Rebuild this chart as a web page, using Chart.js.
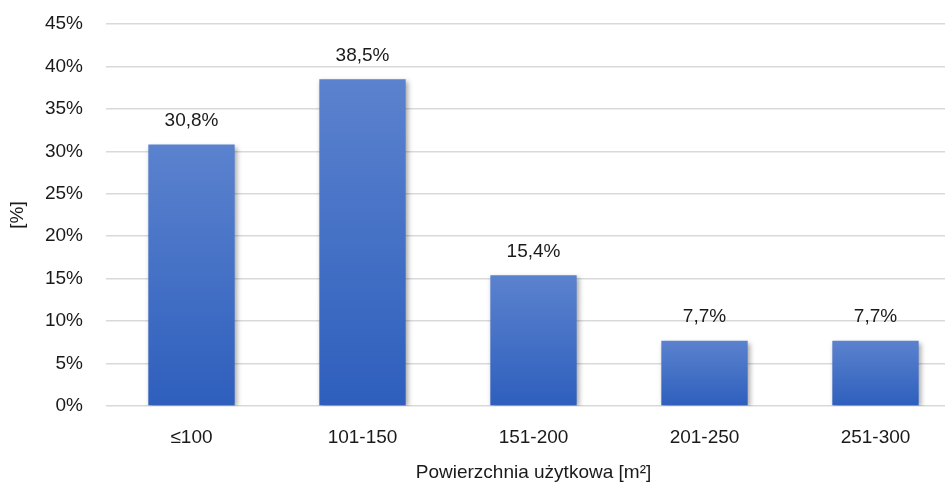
<!DOCTYPE html>
<html>
<head>
<meta charset="utf-8">
<script src="https://cdn.jsdelivr.net/npm/chart.js@4/dist/chart.umd.min.js"></script>
<style>
  html, body { margin: 0; padding: 0; background: #fff; }
  #wrap { width: 949px; height: 486px; overflow: hidden; }
</style>
</head>
<body>
<div id="wrap"><canvas id="wykres" width="961" height="486"></canvas></div>
<script>
var kategorie = ['\u2264100', '101-150', '151-200', '201-250', '251-300'];
var udzialy = [30.8, 38.5, 15.4, 7.7, 7.7];
var yMin = 0, yMax = 45, yKrok = 5;

var FONT = 'Liberation Sans';

function gradientSlupka(context) {
    var chart = context.chart;
    if (!chart.chartArea || context.parsed == null) return '#4472c4';
    var y = chart.scales.y;
    var gora = y.getPixelForValue(context.parsed.y);
    var dol = y.getPixelForValue(0);
    var g = chart.ctx.createLinearGradient(0, gora, 0, dol);
    g.addColorStop(0, '#5b82ce');
    g.addColorStop(1, '#2e5fbd');
    return g;
}

// cien pod slupkami, jak w Excelu
var cienPlugin = {
    id: 'cien',
    beforeDatasetDraw: function(chart) {
        var ctx = chart.ctx;
        ctx.save();
        ctx.shadowColor = 'rgba(0,0,0,0.35)';
        ctx.shadowBlur = 5;
        ctx.shadowOffsetX = 2;
        ctx.shadowOffsetY = 2;
    },
    afterDatasetDraw: function(chart) {
        chart.ctx.restore();
    }
};

// obcinamy siatke na 945 px, jak na obrazku
var siatkaPlugin = {
    id: 'siatka',
    beforeDraw: function(chart) {
        chart.ctx.save();
        chart.ctx.beginPath();
        chart.ctx.rect(0, 0, 945, chart.height);
        chart.ctx.clip();
    },
    afterDraw: function(chart) {
        chart.ctx.restore();
    }
};

// etykiety wartosci nad slupkami
var etykietyPlugin = {
    id: 'etykiety',
    afterDatasetsDraw: function(chart) {
        var ctx = chart.ctx;
        var meta = chart.getDatasetMeta(0);
        ctx.save();
        ctx.font = '19px "' + FONT + '"';
        ctx.fillStyle = '#1a1a1a';
        ctx.textAlign = 'center';
        ctx.textBaseline = 'bottom';
        meta.data.forEach(function(bar, i) {
            var txt = udzialy[i].toFixed(1).replace('.', ',') + '%';
            ctx.fillText(txt, bar.x, bar.y - 14);
        });
        ctx.restore();
    }
};

var config = {
    type: 'bar',
    data: {
        labels: kategorie,
        datasets: [{
            data: udzialy,
            backgroundColor: gradientSlupka,
            borderWidth: 0,
            barPercentage: 0.505,
            categoryPercentage: 1.0
        }]
    },
    options: {
        responsive: false,
        animation: false,
        layout: {
            padding: { left: 0, right: 0, top: 24, bottom: 0 }
        },
        plugins: {
            legend: { display: false },
            tooltip: { enabled: false }
        },
        scales: {
            x: {
                grid: { display: false },
                border: { display: false },
                ticks: {
                    color: '#1a1a1a',
                    font: { family: FONT, size: 19 },
                    padding: 12,
                    maxRotation: 0
                },
                title: {
                    display: true,
                    text: 'Powierzchnia u\u017cytkowa [m\u00b2]',
                    color: '#1a1a1a',
                    font: { family: FONT, size: 19 },
                    padding: { top: 4, bottom: 2 }
                },
                afterFit: function(axis) { axis.height = 80; }
            },
            y: {
                min: yMin,
                max: yMax,
                grid: {
                    color: '#d9d9d9',
                    lineWidth: 1.5,
                    drawTicks: true,
                    tickLength: 23,
                    tickColor: 'rgba(0,0,0,0)'
                },
                border: { display: false },
                ticks: {
                    stepSize: yKrok,
                    color: '#1a1a1a',
                    font: { family: FONT, size: 19 },
                    padding: 0,
                    callback: function(v) { return v + '%'; }
                },
                title: {
                    display: true,
                    text: '[%]',
                    color: '#1a1a1a',
                    font: { family: FONT, size: 19 },
                    padding: { top: 6, bottom: 0 }
                },
                afterFit: function(axis) { axis.width = 106; }
            }
        }
    },
    plugins: [siatkaPlugin, cienPlugin, etykietyPlugin]
};

window.onload = function() {
    var ctx = document.getElementById('wykres').getContext('2d');
    window.mojWykres = new Chart(ctx, config);
};
</script>
</body>
</html>
